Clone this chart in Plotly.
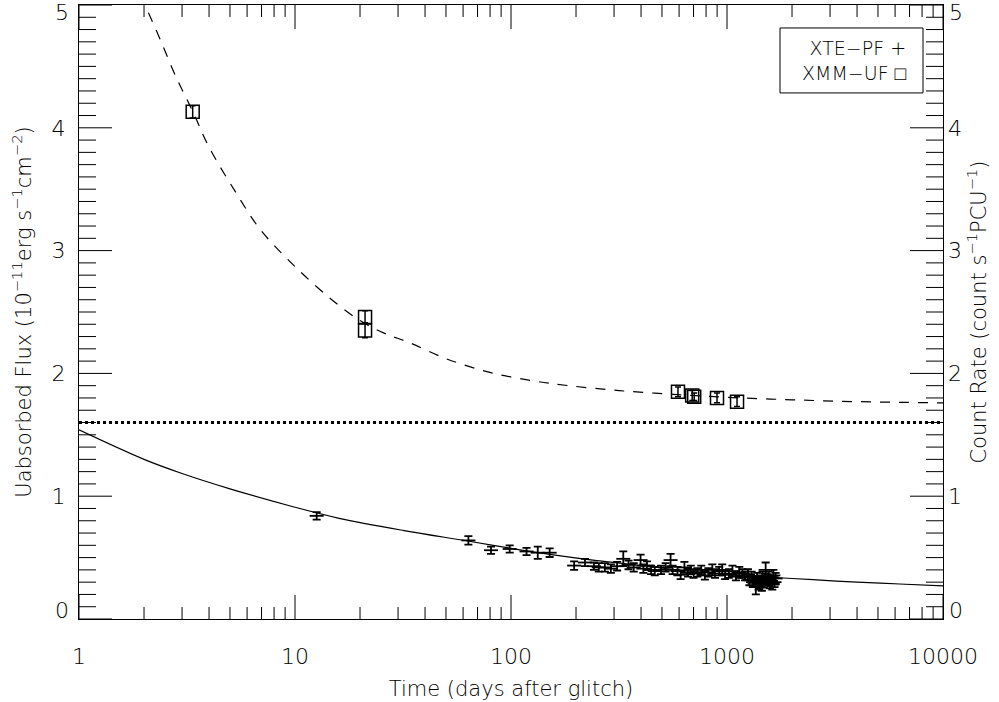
import math
import plotly.graph_objects as go

# ---------------- data ----------------
xte_days = [12.6, 63.5, 80.8, 98.6, 118, 133, 151, 196, 220, 242, 255, 272, 290, 310, 331, 350,
            370, 398, 410, 426, 445, 463, 495, 520, 548, 560, 590, 610, 635, 660, 680, 700, 730,
            760, 790, 820, 855, 880, 920, 950, 980, 1020, 1060, 1100, 1140, 1180, 1210, 1250,
            1270, 1300, 1320, 1350, 1360, 1380, 1400, 1410, 1430, 1450, 1460, 1480, 1500, 1510,
            1540, 1560, 1580, 1600, 1620, 1640, 1660, 1680]
xte_flux = [0.84, 0.64, 0.56, 0.57, 0.55, 0.54, 0.54, 0.435, 0.46, 0.43, 0.42, 0.42, 0.41, 0.43, 0.49, 0.44,
            0.42, 0.48, 0.41, 0.435, 0.40, 0.39, 0.40, 0.42, 0.48, 0.40, 0.39, 0.36, 0.42, 0.38, 0.40, 0.37, 0.38,
            0.40, 0.355, 0.38, 0.40, 0.37, 0.39, 0.40, 0.36, 0.37, 0.39, 0.35, 0.38, 0.37, 0.35, 0.36,
            0.32, 0.34, 0.30, 0.305, 0.26, 0.33, 0.28, 0.29, 0.31, 0.27, 0.34, 0.30, 0.33, 0.40,
            0.32, 0.34, 0.29, 0.31, 0.28, 0.355, 0.30, 0.33]
xte_err = [0.03, 0.035, 0.03, 0.03, 0.03, 0.05, 0.035, 0.035, 0.03, 0.03, 0.035, 0.035, 0.035, 0.035, 0.06, 0.035,
           0.035, 0.045, 0.035, 0.035, 0.035, 0.035, 0.035, 0.035, 0.05, 0.035, 0.035, 0.035, 0.045, 0.035, 0.035,
           0.035, 0.035, 0.035, 0.035, 0.035, 0.045, 0.035, 0.035, 0.045, 0.035, 0.035, 0.045, 0.035, 0.045,
           0.035, 0.035, 0.045, 0.045, 0.045, 0.04, 0.045, 0.06, 0.045, 0.04, 0.045, 0.045, 0.04, 0.045, 0.045,
           0.04, 0.06, 0.045, 0.045, 0.04, 0.045, 0.04, 0.045, 0.04, 0.045]

xmm_days = [3.36, 21.1, 21.1, 593, 690, 705, 899, 1113]
xmm_flux = [4.13, 2.46, 2.35, 1.85, 1.82, 1.81, 1.80, 1.77]
xmm_err = [0.05, 0.05, 0.06, 0.04, 0.04, 0.03, 0.04, 0.04]

# model curves
xte_model_days = [1, 2, 3, 5, 10, 16, 32, 63, 100, 160, 250, 400, 630, 1000, 1600, 2500, 4000, 6300, 10000]
xte_model_flux = [1.54, 1.30, 1.185, 1.06, 0.91, 0.82, 0.72, 0.635, 0.575, 0.52, 0.475, 0.435, 0.395,
                  0.365, 0.34, 0.32, 0.30, 0.285, 0.27]

xmm_model_days = [1.78, 2.02, 2.31, 2.82, 3.39, 3.98, 5.25, 6.92, 10, 14.8, 20, 25.7, 33.9, 50, 79, 126,
                  186, 316, 562, 1000, 2000, 4000, 10000]
xmm_model_flux = [5.22, 5.0, 4.77, 4.41, 4.12, 3.85, 3.49, 3.17, 2.87, 2.60, 2.43, 2.33, 2.25, 2.12, 2.01,
                  1.94, 1.90, 1.86, 1.83, 1.805, 1.785, 1.77, 1.76]

level_days = [1, 10000]
level_flux = [1.6, 1.6]

x_tick_vals = [1, 10, 100, 1000, 10000]
x_tick_text = ["1", "10", "100", "1000", "10000"]
y_tick_vals = [1, 2, 3, 4]
y_tick_text = ["1", "2", "3", "4"]
y_edge_vals = [0, 5]          # edge labels, drawn nudged inward as in the reference
y_edge_text = ["0", "5"]

# ---------------- geometry ----------------
W, H = 999, 702
ML, MR, MT, MB = 79, 56, 5, 83
PW, PH = W - ML - MR, H - MT - MB
X_LOG_MIN, X_LOG_MAX = 0, 4
Y_MIN, Y_MAX = 0, 5

FONT = "DejaVu Sans"
font = dict(family=FONT, size=22, color="black", weight=200)
tfont = dict(family=FONT, size=21, color="black", weight=200)

fig = go.Figure()

fig.add_trace(go.Scatter(x=level_days, y=level_flux, mode="lines",
                         line=dict(color="black", width=3, dash="dot"), showlegend=False))
fig.add_trace(go.Scatter(x=xte_model_days, y=xte_model_flux, mode="lines",
                         line=dict(color="black", width=1.2, shape="spline"), showlegend=False))
fig.add_trace(go.Scatter(x=xmm_model_days, y=xmm_model_flux, mode="lines",
                         line=dict(color="black", width=1.2, dash="10px,9px", shape="spline"),
                         showlegend=False))
fig.add_trace(go.Scatter(x=xte_days, y=xte_flux, mode="markers",
                         marker=dict(symbol="line-ew", size=10, line=dict(color="black", width=1.8)),
                         error_y=dict(type="data", array=xte_err, color="black", thickness=1.8, width=4),
                         showlegend=False))
fig.add_trace(go.Scatter(x=xmm_days, y=xmm_flux, mode="markers",
                         marker=dict(symbol="square-open", size=13, color="black",
                                     line=dict(color="black", width=1.5)),
                         error_y=dict(type="data", array=xmm_err, color="black", thickness=1.5, width=3),
                         showlegend=False))
# invisible trace to activate the right-hand axis
fig.add_trace(go.Scatter(x=level_days, y=level_flux, yaxis="y2", mode="lines",
                         line=dict(width=0), hoverinfo="skip", showlegend=False))

# ---------------- tick marks (inside, on all four sides) ----------------
shapes = []
tick_line = dict(color="black", width=1)
x_minor = [k * d for d in (1, 10, 100, 1000) for k in range(2, 10)]
for vals, length in ((x_tick_vals, 24), (x_minor, 12)):
    for v in vals:
        f = (math.log10(v) - X_LOG_MIN) / (X_LOG_MAX - X_LOG_MIN)
        h = length / PH
        shapes.append(dict(type="line", xref="x domain", yref="y domain", x0=f, x1=f, y0=0, y1=h,
                           line=tick_line))
        shapes.append(dict(type="line", xref="x domain", yref="y domain", x0=f, x1=f, y0=1, y1=1 - h,
                           line=tick_line))
for i in range(0, 51):
    v = i / 10
    length = 33 if i % 10 == 0 else 17
    f = (v - Y_MIN) / (Y_MAX - Y_MIN)
    w = length / PW
    shapes.append(dict(type="line", xref="x domain", yref="y domain", x0=0, x1=w, y0=f, y1=f,
                       line=tick_line))
    shapes.append(dict(type="line", xref="x domain", yref="y domain", x0=1, x1=1 - w, y0=f, y1=f,
                       line=tick_line))

# legend box
shapes.append(dict(type="rect", xref="paper", yref="paper",
                   x0=(780 - ML) / PW, x1=(923 - ML) / PW,
                   y0=(H - MB - 93 + MT - MT) / PH if False else (619.5 - 93) / 614.5,
                   y1=(619.5 - 28) / 614.5,
                   line=dict(color="black", width=1), fillcolor="white", layer="above"))

annotations = []
for v, t, shift in zip(y_edge_vals, y_edge_text, [9, -7]):
    annotations.append(dict(xref="paper", yref="y", x=0, y=v, xanchor="right", yanchor="middle",
                            xshift=-8, yshift=shift, showarrow=False, text=t, font=font))
    annotations.append(dict(xref="paper", yref="y", x=1, y=v, xanchor="left", yanchor="middle",
                            xshift=4, yshift=shift, showarrow=False, text=t, font=font))
annotations.append(dict(xref="paper", yref="paper", x=(909 - ML) / PW, y=(619.5 - 61) / 614.5,
                        xanchor="right", yanchor="middle", align="right", showarrow=False,
                        text="XTE−PF +<br>XMM−UF □",
                        font=dict(family=FONT, size=19, color="black", weight=200)))

fig.update_layout(
    width=W, height=H,
    margin=dict(l=ML, r=MR, t=MT, b=MB, autoexpand=False),
    paper_bgcolor="white", plot_bgcolor="white",
    font=font,
    xaxis=dict(type="log", range=[X_LOG_MIN, X_LOG_MAX], tickmode="array", tickvals=x_tick_vals,
               ticktext=x_tick_text, ticks="",
               showline=True, linecolor="black", linewidth=1, mirror=True,
               showgrid=False, zeroline=False, tickfont=font, ticklabelstandoff=18,
               automargin=False,
               title=dict(text="Time (days after glitch)", font=tfont, standoff=12)),
    yaxis=dict(range=[Y_MIN, Y_MAX], tickmode="array", tickvals=y_tick_vals, ticktext=y_tick_text,
               ticks="",
               showline=True, linecolor="black", linewidth=1, mirror=True,
               showgrid=False, zeroline=False, tickfont=font, ticklabelstandoff=8,
               automargin=False,
               title=dict(text="Uabsorbed Flux (10<sup>−11</sup>erg s<sup>−1</sup>cm<sup>−2</sup>)",
                          font=tfont, standoff=14)),
    yaxis2=dict(range=[Y_MIN, Y_MAX], overlaying="y", side="right", anchor="x",
                tickmode="array", tickvals=y_tick_vals, ticktext=y_tick_text,
                ticks="", showline=False, showgrid=False, zeroline=False, tickfont=font,
                ticklabelstandoff=4, automargin=False,
                title=dict(text="Count Rate (count s<sup>−1</sup>PCU<sup>−1</sup>)", font=tfont, standoff=10)),
    shapes=shapes,
    annotations=annotations,
)

fig.write_html("out.html", config={"displayModeBar": False},
               post_script="document.body.style.margin='0px';")
